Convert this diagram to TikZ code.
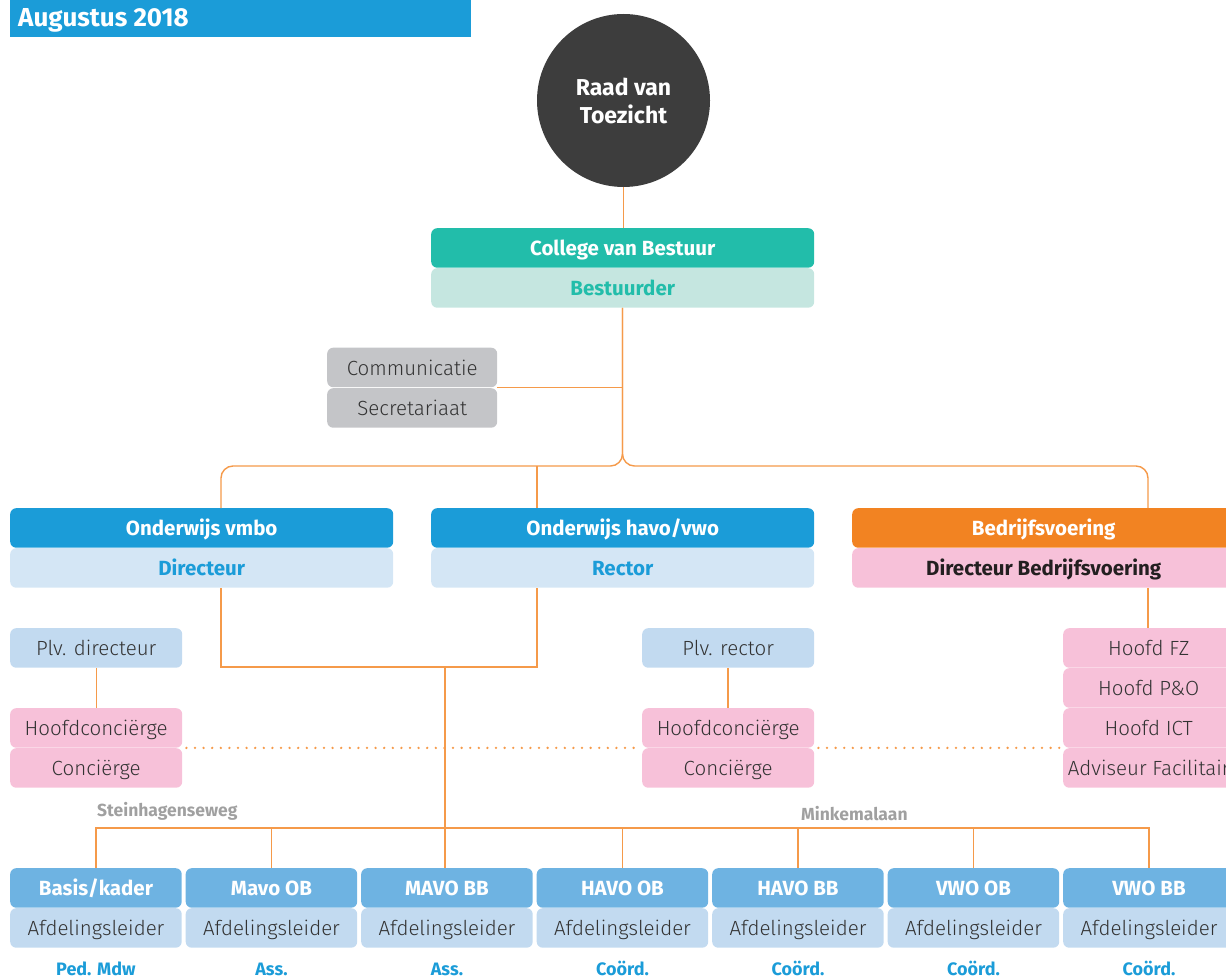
\documentclass[tikz,border=0pt]{standalone}
\usepackage{fontspec}
\setmainfont{Fira Sans}
\newfontfamily\lt{Fira Sans Light}
\definecolor{hdrblue}{HTML}{1B9CD8}
\definecolor{darkc}{HTML}{3D3D3D}
\definecolor{teal}{HTML}{22BDAA}
\definecolor{lteal}{HTML}{C5E6E0}
\definecolor{grayb}{HTML}{C4C5C8}
\definecolor{lblue}{HTML}{D4E6F5}
\definecolor{mblue}{HTML}{C2DAF0}
\definecolor{bblue}{HTML}{6EB3E2}
\definecolor{orng}{HTML}{F28322}
\definecolor{pinkb}{HTML}{F7C1D9}
\definecolor{linec}{HTML}{F59A4A}
\definecolor{txtd}{HTML}{333333}
\definecolor{txtk}{HTML}{231F20}
\definecolor{lgray}{HTML}{A0A0A0}
\newcommand\bsz{\fontsize{20.5}{23}\selectfont\bfseries}
\newcommand\lsz{\fontsize{20.5}{23}\selectfont\lt}
\begin{document}
\begin{tikzpicture}[x=1pt,y=-1pt,
  bx/.style={rounded corners=6pt, inner sep=0pt, anchor=north west, minimum height=39.5pt, text height=15.5pt, text depth=0pt},
  hb/.style={bx, font=\bsz, text=white},
  lb/.style={bx, font=\lsz, text=txtd},
  ln/.style={draw=linec, line width=1.4pt},
  dl/.style={draw=linec, line width=2.6pt, line cap=round, dash pattern=on 0pt off 8.6pt},
  street/.style={font=\fontsize{17.5}{19}\selectfont\bfseries, text=lgray, inner sep=0pt, anchor=south west},
  role/.style={font=\fontsize{18}{20}\selectfont\bfseries, text=hdrblue, inner sep=0pt, anchor=base}]
\useasboundingbox (0,0) rectangle (1226,976);
\clip (0,0) rectangle (1226,976);

% header
\node[anchor=north west, fill=hdrblue, minimum width=461pt, minimum height=37pt, inner sep=0pt] (hdr) at (10,0) {};
\node[anchor=base west, inner sep=0pt, text=white, font=\fontsize{26}{28}\selectfont\bfseries] (hdrt) at (18,27) {Augustus 2018};

% top circle
\node[circle, fill=darkc, minimum size=173pt, inner sep=0pt, align=center, text=white, font=\fontsize{23}{28}\selectfont\bfseries] (rvt) at (623.5,100.5) {Raad van\\Toezicht};

% college van bestuur
\node[hb, fill=teal, minimum width=383pt] (cvb) at (431,228) {College van Bestuur};
\node[bx, fill=lteal, minimum width=383pt, font=\bsz, text=teal] (bst) at (431,268) {Bestuurder};

% staff
\node[lb, fill=grayb, minimum width=170pt] (com) at (327,347.5) {Communicatie};
\node[lb, fill=grayb, minimum width=170pt] (sec) at (327,388) {Secretariaat};

% three divisions
\node[hb, fill=hdrblue, minimum width=383pt] (vmbo) at (10,508) {Onderwijs vmbo};
\node[bx, fill=lblue, minimum width=383pt, font=\bsz, text=hdrblue] (dir) at (10,548) {Directeur};
\node[hb, fill=hdrblue, minimum width=383pt] (hv) at (431,508) {Onderwijs havo/vwo};
\node[bx, fill=lblue, minimum width=383pt, font=\bsz, text=hdrblue] (rec) at (431,548) {Rector};
\node[hb, fill=orng, minimum width=383pt] (bv) at (852,508) {Bedrijfsvoering};
\node[bx, fill=pinkb, minimum width=383pt, font=\bsz, text=txtk] (dbv) at (852,548) {Directeur Bedrijfsvoering};

% vmbo side
\node[lb, fill=mblue, minimum width=172pt] (pld) at (10,628) {Plv. directeur};
\node[lb, fill=pinkb, minimum width=172pt] (hc1) at (10,708) {Hoofdconciërge};
\node[lb, fill=pinkb, minimum width=172pt] (cc1) at (10,748) {Conciërge};

% havo/vwo side
\node[lb, fill=mblue, minimum width=172pt] (plr) at (642,628) {Plv. rector};
\node[lb, fill=pinkb, minimum width=172pt] (hc2) at (642,708) {Hoofdconciërge};
\node[lb, fill=pinkb, minimum width=172pt] (cc2) at (642,748) {Conciërge};

% bedrijfsvoering side
\node[lb, fill=pinkb, minimum width=171pt] (hfz) at (1063,628) {Hoofd FZ};
\node[lb, fill=pinkb, minimum width=171pt] (hpo) at (1063,668) {Hoofd P\&O};
\node[lb, fill=pinkb, minimum width=171pt] (hict) at (1063,708) {Hoofd ICT};
\node[lb, fill=pinkb, minimum width=171pt] (adv) at (1063,748) {Adviseur Facilitair};

% street labels
\node[street] (stw) at (97,821) {Steinhagenseweg};
\node[street] (mkl) at (801,821) {Minkemalaan};

% bottom departments
\foreach \i/\t/\r in {0/Basis\slash kader/Ped. Mdw, 1/Mavo OB/Ass., 2/MAVO BB/Ass., 3/HAVO OB/Coörd., 4/HAVO BB/Coörd., 5/VWO OB/Coörd., 6/VWO BB/Coörd.}{
  \node[hb, fill=bblue, minimum width=171.5pt] (d\i) at ({10+175.5*\i},868) {\t};
  \node[lb, fill=mblue, minimum width=171.5pt] (a\i) at ({10+175.5*\i},908) {Afdelingsleider};
  \node[role] (r\i) at ([yshift=-27.5pt]a\i.south) {\r};
}

% connectors
\draw[ln] (rvt.south) -- (cvb.north -| rvt.south);
\coordinate (jn) at (622.5,466);
\draw[ln, rounded corners=12pt] (bst.south -| jn) -- (jn) -- (jn -| 221,0) -- (vmbo.north -| 221,0);
\draw[ln, rounded corners=12pt] (bst.south -| jn) -- (jn) -- (jn -| 1148,0) -- (bv.north -| 1148,0);
\draw[ln] (jn -| 537,0) -- (hv.north -| 537,0);
\draw[ln] (com.south east) -- (com.south east -| jn);
% directeur - rector
\coordinate (dj) at (445,667);
\draw[ln] (dir.south -| 221,0) -- (dj -| 221,0) -- (dj -| 537,0) -- (rec.south -| 537,0);
\draw[ln] (dj) -- (d2.north -| dj);
\draw[ln] (pld.south) -- (hc1.north);
\draw[ln] (plr.south -| 728,0) -- (hc2.north -| 728,0);
\draw[ln] (dbv.south -| 1148,0) -- (hfz.north -| 1148,0);
% dotted
\draw[dl] ([xshift=4pt]hc1.south east) -- ([xshift=-3pt]hc2.south west);
\draw[dl] ([xshift=4pt]hc2.south east) -- ([xshift=-3pt]hict.south west);
% bottom bar
\coordinate (bb) at (0,828);
\draw[ln] (d0.north) -- (bb -| d0.north) -- (bb -| d6.north) -- (d6.north);
\foreach \i in {1,3,4,5}{ \draw[ln] (bb -| d\i.north) -- (d\i.north); }
\end{tikzpicture}
\end{document}
